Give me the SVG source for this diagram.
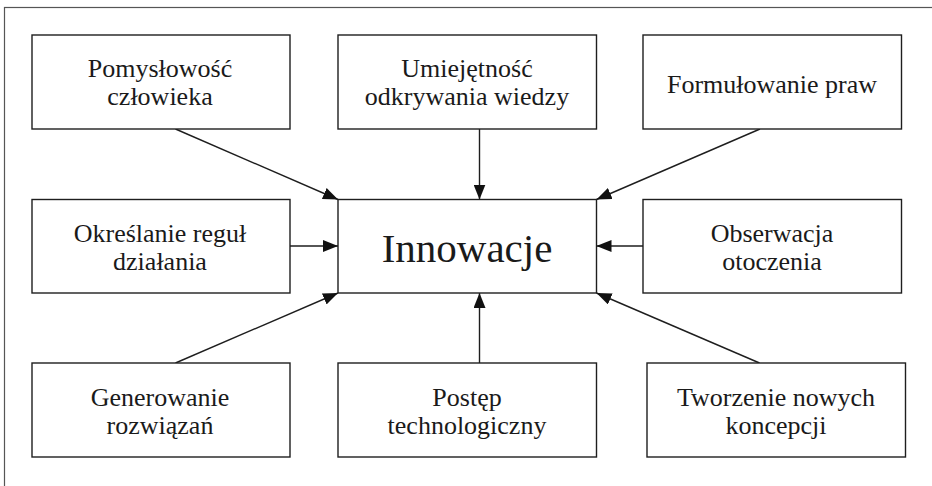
<svg xmlns="http://www.w3.org/2000/svg" width="932" height="486" viewBox="0 0 932 486">
<style>
.box{fill:#fff;stroke:#1e1e1e;stroke-width:1.4}
.t{font-family:'Liberation Serif','Times New Roman',Tinos,'DejaVu Serif',serif;font-size:26px;fill:#1a1a1a;text-anchor:middle}
.big{font-size:41px}
.c{stroke:#1e1e1e;stroke-width:1.4;fill:none;marker-end:url(#ah)}
</style>
<defs>
<marker id="ah" markerUnits="userSpaceOnUse" markerWidth="15" markerHeight="12" refX="15" refY="6" orient="auto">
<path d="M0,0 L15,6 L0,12 z" fill="#111"/>
</marker>
</defs>
<rect width="932" height="486" fill="#fff"/>
<rect x="4.5" y="7.5" width="1000" height="1000" fill="none" stroke="#555" stroke-width="1.2"/>
<g id="connectors">
<line class="c" x1="175.5" y1="129" x2="338" y2="199.5"/>
<line class="c" x1="479.5" y1="129" x2="479.5" y2="199.5"/>
<line class="c" x1="760" y1="129" x2="596.5" y2="199.5"/>
<line class="c" x1="290" y1="246" x2="338" y2="246"/>
<line class="c" x1="643" y1="246" x2="596.5" y2="246"/>
<line class="c" x1="175.5" y1="363" x2="338" y2="293"/>
<line class="c" x1="479.5" y1="363" x2="479.5" y2="293"/>
<line class="c" x1="759.5" y1="363" x2="596.5" y2="293"/>
</g>
<g id="innowacje">
<rect class="box" x="338" y="199.5" width="258.5" height="93.5"/>
<text class="t big" x="467" y="262" font-family="Liberation Serif, serif">Innowacje</text>
</g>
<g id="pomyslowosc">
<rect class="box" x="32" y="35" width="258" height="94"/>
<text class="t" x="160" y="77">Pomysłowość</text>
<text class="t" x="160" y="105">człowieka</text>
</g>
<g id="umiejetnosc">
<rect class="box" x="338" y="35" width="258.5" height="94"/>
<text class="t" x="467" y="77">Umiejętność</text>
<text class="t" x="467" y="105">odkrywania wiedzy</text>
</g>
<g id="formulowanie">
<rect class="box" x="643" y="35" width="258.5" height="94"/>
<text class="t" x="772" y="92.5">Formułowanie praw</text>
</g>
<g id="okreslanie">
<rect class="box" x="32" y="199.5" width="258" height="93.5"/>
<text class="t" x="160" y="242">Określanie reguł</text>
<text class="t" x="160" y="270">działania</text>
</g>
<g id="obserwacja">
<rect class="box" x="643" y="199.5" width="258.5" height="93.5"/>
<text class="t" x="772" y="242">Obserwacja</text>
<text class="t" x="772" y="270">otoczenia</text>
</g>
<g id="generowanie">
<rect class="box" x="32" y="363" width="258" height="94"/>
<text class="t" x="160" y="406">Generowanie</text>
<text class="t" x="160" y="434">rozwiązań</text>
</g>
<g id="postep">
<rect class="box" x="338" y="363" width="258.5" height="94"/>
<text class="t" x="467" y="406">Postęp</text>
<text class="t" x="467" y="434">technologiczny</text>
</g>
<g id="tworzenie">
<rect class="box" x="647" y="363" width="258.5" height="94"/>
<text class="t" x="776" y="406">Tworzenie nowych</text>
<text class="t" x="776" y="434">koncepcji</text>
</g>
</svg>
